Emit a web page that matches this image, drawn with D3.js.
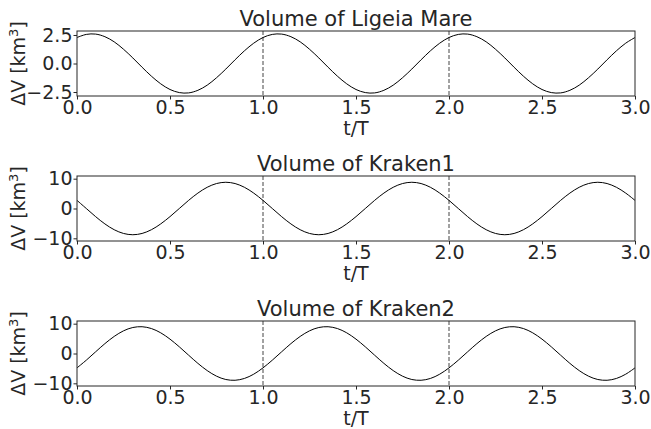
<!DOCTYPE html>
<html>
<head>
<meta charset="utf-8">
<script src="https://cdn.jsdelivr.net/npm/d3@7"></script>
<style>
  body { margin: 0; background: #fff; }
  text { font-family: "DejaVu Sans", sans-serif; fill: #262626; }
</style>
</head>
<body>
<svg id="chart" width="651" height="429"></svg>
<script>
// t/T sample points, every 0.05
var tSteps = [0.00,0.05,0.10,0.15,0.20,0.25,0.30,0.35,0.40,0.45,0.50,0.55,0.60,0.65,0.70,0.75,0.80,0.85,0.90,0.95,
              1.00,1.05,1.10,1.15,1.20,1.25,1.30,1.35,1.40,1.45,1.50,1.55,1.60,1.65,1.70,1.75,1.80,1.85,1.90,1.95,
              2.00,2.05,2.10,2.15,2.20,2.25,2.30,2.35,2.40,2.45,2.50,2.55,2.60,2.65,2.70,2.75,2.80,2.85,2.90,2.95,3.00];

// values (km^3)
var ligeia = [2.28,2.55,2.58,2.35,1.90,1.25,0.49,-0.33,-1.11,-1.78,-2.28,-2.55,-2.58,-2.35,-1.90,-1.25,-0.49,0.33,1.11,1.78,
              2.28,2.55,2.58,2.35,1.90,1.25,0.49,-0.33,-1.11,-1.78,-2.28,-2.55,-2.58,-2.35,-1.90,-1.25,-0.49,0.33,1.11,1.78,
              2.28,2.55,2.58,2.35,1.90,1.25,0.49,-0.33,-1.11,-1.78,-2.28,-2.55,-2.58,-2.35,-1.90,-1.25,-0.49,0.33,1.11,1.78,2.28];

var kraken1 = [2.72,0.00,-2.72,-5.17,-7.12,-8.37,-8.80,-8.37,-7.12,-5.17,-2.72,0.00,2.72,5.17,7.12,8.37,8.80,8.37,7.12,5.17,
               2.72,0.00,-2.72,-5.17,-7.12,-8.37,-8.80,-8.37,-7.12,-5.17,-2.72,0.00,2.72,5.17,7.12,8.37,8.80,8.37,7.12,5.17,
               2.72,0.00,-2.72,-5.17,-7.12,-8.37,-8.80,-8.37,-7.12,-5.17,-2.72,0.00,2.72,5.17,7.12,8.37,8.80,8.37,7.12,5.17,2.72];

var kraken2 = [-4.82,-2.24,0.56,3.31,5.73,7.60,8.72,8.98,8.37,6.94,4.82,2.24,-0.56,-3.31,-5.73,-7.60,-8.72,-8.98,-8.37,-6.94,
               -4.82,-2.24,0.56,3.31,5.73,7.60,8.72,8.98,8.37,6.94,4.82,2.24,-0.56,-3.31,-5.73,-7.60,-8.72,-8.98,-8.37,-6.94,
               -4.82,-2.24,0.56,3.31,5.73,7.60,8.72,8.98,8.37,6.94,4.82,2.24,-0.56,-3.31,-5.73,-7.60,-8.72,-8.98,-8.37,-6.94,-4.82];

var titles = ["Volume of Ligeia Mare", "Volume of Kraken1", "Volume of Kraken2"];
var series = [ligeia, kraken1, kraken2];
var yDomains = [[-2.85, 2.85], [-10.9, 10.9], [-10.9, 10.9]];
var yTicks = [[-2.5, 0, 2.5], [-10, 0, 10], [-10, 0, 10]];
var xTicks = [0, 0.5, 1, 1.5, 2, 2.5, 3];
var periodMarks = [1, 2];

var svg = d3.select("#chart");
var left = 77, right = 635, ph = 65;
var tops = [31, 176, 321];

var x = d3.scaleLinear().domain([0, 3]).range([left, right]);

series.forEach(function(vals, i) {
    var top = tops[i];
    var y = d3.scaleLinear().domain(yDomains[i]).range([top + ph, top]);
    var g = svg.append("g");

    var tickFmt = i == 0 ? d3.format(".1f") : d3.format("d");

    // period markers
    g.selectAll("line.per").data(periodMarks).enter().append("line")
        .attr("x1", function(d) { return x(d); }).attr("x2", function(d) { return x(d); })
        .attr("y1", top).attr("y2", top + ph)
        .attr("stroke", "#444").attr("stroke-width", 1)
        .attr("stroke-dasharray", "4,2");

    var line = d3.line()
        .x(function(d, j) { return x(tSteps[j]); })
        .y(function(d) { return y(d); })
        .curve(d3.curveCatmullRom);

    g.append("path").datum(vals)
        .attr("d", line)
        .attr("fill", "none")
        .attr("stroke", "#000")
        .attr("stroke-width", 1);

    // frame
    g.append("rect")
        .attr("x", left).attr("y", top)
        .attr("width", right - left).attr("height", ph)
        .attr("fill", "none").attr("stroke", "#262626").attr("stroke-width", 1);

    var xa = g.append("g").attr("transform", "translate(0," + (top + ph) + ")")
        .call(d3.axisBottom(x).tickValues(xTicks).tickFormat(d3.format(".1f")).tickSize(3.5).tickPadding(1));
    var ya = g.append("g").attr("transform", "translate(" + left + ",0)")
        .call(d3.axisLeft(y).tickValues(yTicks[i]).tickFormat(function(d) { return tickFmt(d).replace("-", "\u2212"); }).tickSize(3.5).tickPadding(1));

    [xa, ya].forEach(function(a) {
        a.select(".domain").remove();
        a.selectAll(".tick line").attr("stroke", "#262626");
        a.selectAll("text").attr("font-size", 19).attr("fill", "#262626")
            .style("font-family", "DejaVu Sans");
    });

    g.append("text")
        .attr("x", (left + right) / 2).attr("y", top - 5)
        .attr("text-anchor", "middle").attr("font-size", 21)
        .text(titles[i]);

    g.append("text")
        .attr("x", (left + right) / 2).attr("y", top + ph + 39)
        .attr("text-anchor", "middle").attr("font-size", 19)
        .text("t/T");

    var yl = g.append("text")
        .attr("transform", "translate(25," + (top + ph / 2) + ") rotate(-90)")
        .attr("text-anchor", "middle").attr("font-size", 19);
    yl.append("tspan").text("\u0394V [km");
    yl.append("tspan").attr("dy", -7).attr("font-size", 13).text("3");
    yl.append("tspan").attr("dy", 7).text("]");
});
</script>
</body>
</html>
